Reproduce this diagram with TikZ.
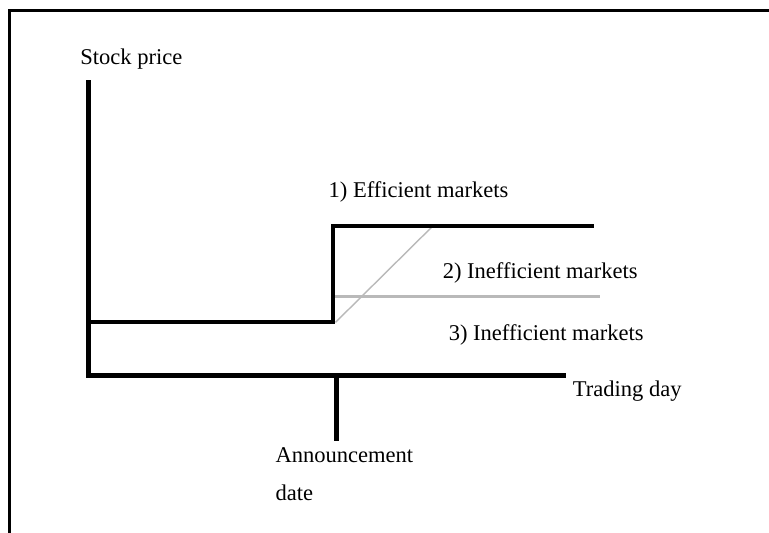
\documentclass[tikz,border=0pt]{standalone}
\usepackage{fontspec}
\setmainfont{Liberation Serif}
\definecolor{linegray}{RGB}{185, 185, 185}
\usepackage{tikz}
\usetikzlibrary{positioning, calc}

\begin{document}
\begin{tikzpicture}[
  x=1pt, y=-1pt,
  axisline/.style={line width=5pt},
  priceline/.style={line width=4pt, miter limit=4},
  slowline/.style={draw=linegray, line width=3pt},
  lagline/.style={draw=linegray, line width=1.4pt},
  lbl/.style={font=\fontsize{22.5}{38}\selectfont, inner sep=0pt, anchor=base west, align=left}
]
  \useasboundingbox (0,0) rectangle (768,531.5);
  \fill[white] (-5,-5) rectangle (780,540);

  % frame (only top and left edges show)
  \draw[line width=3pt] (9.5,540) -- (9.5,10.5) -- (780,10.5);

  % axes
  \coordinate (origin) at (88,375);
  \coordinate (ytop) at (88,80);
  \coordinate (xend) at (565,375);
  \draw[axisline] (ytop) -- (origin) -- (xend);

  % announcement tick
  \coordinate (tickA) at (336,375);
  \coordinate (tickB) at (336,440);
  \draw[axisline] (tickA) -- (tickB);

  % price paths
  \coordinate (p0) at (88,322);
  \coordinate (p1) at (333,322);
  \coordinate (p2) at (333,226);
  \coordinate (p3) at (593,226);
  \coordinate (q1) at (333,296);
  \coordinate (q2) at (599,296);
  \coordinate (r1) at (335,322);
  \coordinate (r2) at (432,226);
  \draw[slowline] (q1) -- (q2);
  \draw[lagline] (r1) -- (r2);
  \draw[priceline] (p0) -- (p1) -- (p2) -- (p3);

  % labels
  \node[lbl] (ylabel) at (80,64) {Stock price};
  \node[lbl] (xlabel) at (572,396) {Trading day};
  \node[lbl] (effic) at (328,197) {1) Efficient markets};
  \node[lbl] (ineffA) at (442,278) {2) Inefficient markets};
  \node[lbl] (ineffB) at (448,340) {3) Inefficient markets};
  \node[lbl] (announce) at (275,500) {Announcement\\date};
\end{tikzpicture}
\end{document}
